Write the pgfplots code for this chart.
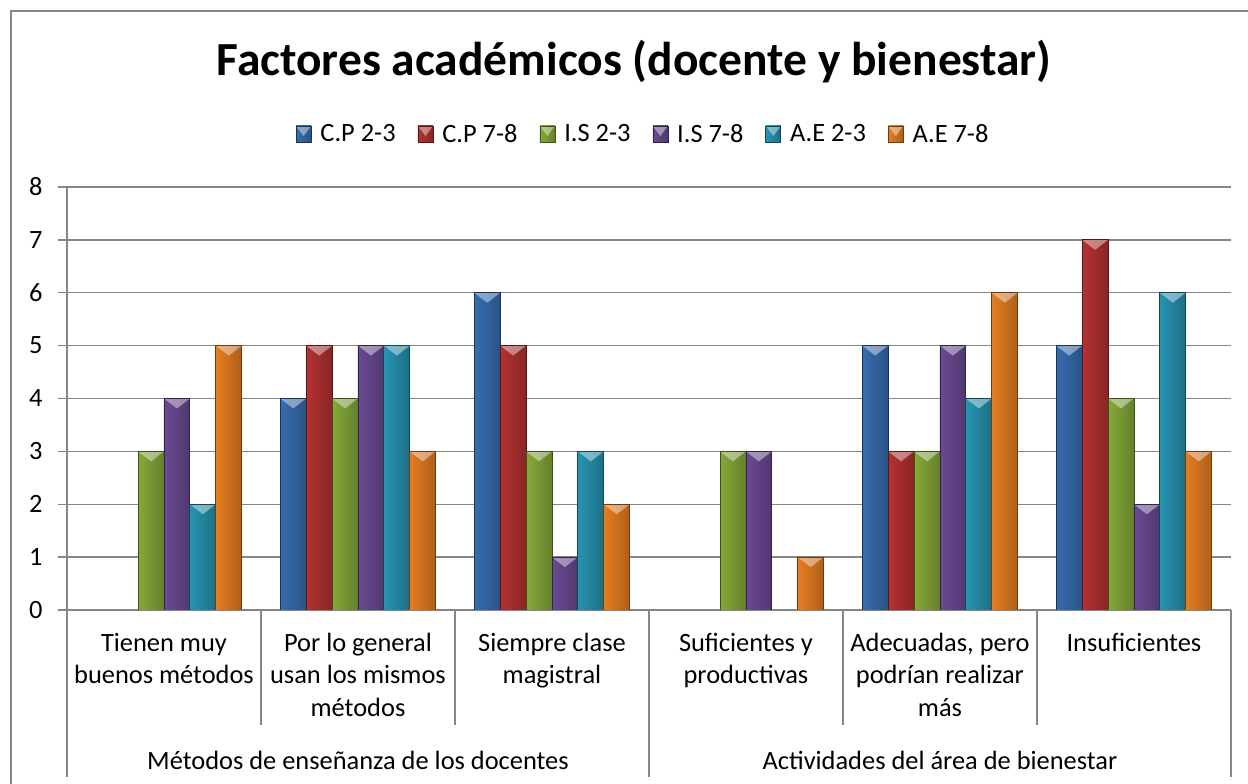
\documentclass[border=0pt]{standalone}
\usepackage{pgfplots}
\pgfplotsset{compat=1.18}
\usepackage{fontspec}
\setmainfont{Carlito}
\definecolor{gridgray}{RGB}{134,134,134}
\definecolor{cBlue}{RGB}{58,115,185}
\definecolor{cRed}{RGB}{190,52,52}
\definecolor{cGreen}{RGB}{140,178,60}
\definecolor{cPurple}{RGB}{112,78,155}
\definecolor{cAqua}{RGB}{40,155,185}
\definecolor{cOrange}{RGB}{242,132,35}
\newcommand{\lbl}{\fontsize{26.4}{32}\selectfont}
\newcommand{\ttl}{\fontsize{47.5}{52}\selectfont\bfseries}
\newcommand{\bevel}{%
  \pgfsetfillcolor{white}\pgfsetfillopacity{0.42}%
  \pgfpathmoveto{\pgfpointanchor{path picture bounding box}{north west}}%
  \pgfpathlineto{\pgfpointadd{\pgfpointanchor{path picture bounding box}{north}}{\pgfpoint{0pt}{-10pt}}}%
  \pgfpathlineto{\pgfpointanchor{path picture bounding box}{north east}}%
  \pgfpathclose\pgfusepath{fill}}
\tikzset{excelbar/.style={left color=#1!95!black, middle color=#1!90!white, right color=#1!72!black,
  draw=#1!45!black, line width=0.8pt, path picture={\bevel}}}
\pgfplotsset{
  s0/.style={ybar, bar width=25.9pt, bar shift=-64.75pt, excelbar=cBlue, forget plot},
  s1/.style={ybar, bar width=25.9pt, bar shift=-38.85pt, excelbar=cRed, forget plot},
  s2/.style={ybar, bar width=25.9pt, bar shift=-12.95pt, excelbar=cGreen, forget plot},
  s3/.style={ybar, bar width=25.9pt, bar shift=12.95pt, excelbar=cPurple, forget plot},
  s4/.style={ybar, bar width=25.9pt, bar shift=38.85pt, excelbar=cAqua, forget plot},
  s5/.style={ybar, bar width=25.9pt, bar shift=64.75pt, excelbar=cOrange, forget plot},
}
\newcommand{\bb}[3]{\addplot[#1] coordinates {(#2,#3)};}
\begin{document}
\begin{tikzpicture}[x=1pt,y=1pt]
\useasboundingbox (0,0) rectangle (1248,784);
\draw[gridgray, line width=1.3pt] (11,0) -- (11,773) -- (1248,773);
\node[anchor=base, font=\ttl] at (634,708) {Factores académicos (docente y bienestar)};
\begin{axis}[
  at={(67pt,174pt)}, anchor=south west, scale only axis,
  width=1164pt, height=423pt,
  xmin=-0.5, xmax=5.5, ymin=0, ymax=8,
  ytick={0,1,...,8}, xtick=\empty,
  ymajorgrids, grid style={gridgray, line width=1.3pt},
  axis lines=left, axis line style={-, gridgray, line width=1.3pt},
  tick align=outside, major tick length=9pt,
  every tick/.style={gridgray, line width=1.3pt},
  /pgf/number format/assume math mode=true,
  yticklabel style={font=\lbl, xshift=-12pt},
  clip mode=individual,
  legend columns=6,
  legend image code/.code={\draw[#1, line width=0.6pt] (0pt,-8pt) rectangle (15pt,8pt); \path (22pt,0pt);},
  legend style={at={(axis description cs:0.495,1)}, anchor=center, yshift=53pt,
    draw=none, fill=none, inner sep=0pt, font=\lbl,
    /tikz/every even column/.append style={column sep=20pt}},
]
\addlegendimage{excelbar=cBlue}
\addlegendimage{excelbar=cRed}
\addlegendimage{excelbar=cGreen}
\addlegendimage{excelbar=cPurple}
\addlegendimage{excelbar=cAqua}
\addlegendimage{excelbar=cOrange}
\legend{C.P 2-3, C.P 7-8, I.S 2-3, I.S 7-8, A.E 2-3, A.E 7-8}
% C.P 2-3
\bb{s0}{1}{4} \bb{s0}{2}{6} \bb{s0}{4}{5} \bb{s0}{5}{5}
% C.P 7-8
\bb{s1}{1}{5} \bb{s1}{2}{5} \bb{s1}{4}{3} \bb{s1}{5}{7}
% I.S 2-3
\bb{s2}{0}{3} \bb{s2}{1}{4} \bb{s2}{2}{3} \bb{s2}{3}{3} \bb{s2}{4}{3} \bb{s2}{5}{4}
% I.S 7-8
\bb{s3}{0}{4} \bb{s3}{1}{5} \bb{s3}{2}{1} \bb{s3}{3}{3} \bb{s3}{4}{5} \bb{s3}{5}{2}
% A.E 2-3
\bb{s4}{0}{2} \bb{s4}{1}{5} \bb{s4}{2}{3} \bb{s4}{4}{4} \bb{s4}{5}{6}
% A.E 7-8
\bb{s5}{0}{5} \bb{s5}{1}{3} \bb{s5}{2}{2} \bb{s5}{3}{1} \bb{s5}{4}{6} \bb{s5}{5}{3}
% separators
\draw[gridgray, line width=1.3pt] (axis cs:0.5,0) -- ++(0pt,-115pt);
\draw[gridgray, line width=1.3pt] (axis cs:1.5,0) -- ++(0pt,-115pt);
\draw[gridgray, line width=1.3pt] (axis cs:3.5,0) -- ++(0pt,-115pt);
\draw[gridgray, line width=1.3pt] (axis cs:4.5,0) -- ++(0pt,-115pt);
\draw[gridgray, line width=1.3pt] (axis cs:-0.5,0) -- ++(0pt,-167pt);
\draw[gridgray, line width=1.3pt] (axis cs:2.5,0) -- ++(0pt,-167pt);
\draw[gridgray, line width=1.3pt] (axis cs:5.5,0) -- ++(0pt,-167pt);
% category labels
\node[anchor=base, font=\lbl, yshift=-42pt] at (axis cs:0,0) {Tienen muy};
\node[anchor=base, font=\lbl, yshift=-74pt] at (axis cs:0,0) {buenos métodos};
\node[anchor=base, font=\lbl, yshift=-42pt] at (axis cs:1,0) {Por lo general};
\node[anchor=base, font=\lbl, yshift=-74pt] at (axis cs:1,0) {usan los mismos};
\node[anchor=base, font=\lbl, yshift=-107pt] at (axis cs:1,0) {métodos};
\node[anchor=base, font=\lbl, yshift=-42pt] at (axis cs:2,0) {Siempre clase};
\node[anchor=base, font=\lbl, yshift=-74pt] at (axis cs:2,0) {magistral};
\node[anchor=base, font=\lbl, yshift=-42pt] at (axis cs:3,0) {Suficientes y};
\node[anchor=base, font=\lbl, yshift=-74pt] at (axis cs:3,0) {productivas};
\node[anchor=base, font=\lbl, yshift=-42pt] at (axis cs:4,0) {Adecuadas, pero};
\node[anchor=base, font=\lbl, yshift=-74pt] at (axis cs:4,0) {podrían realizar};
\node[anchor=base, font=\lbl, yshift=-107pt] at (axis cs:4,0) {más};
\node[anchor=base, font=\lbl, yshift=-42pt] at (axis cs:5,0) {Insuficientes};
\node[anchor=base, font=\lbl, yshift=-160pt] at (axis cs:1,0) {Métodos de enseñanza de los docentes};
\node[anchor=base, font=\lbl, yshift=-160pt] at (axis cs:4,0) {Actividades del área de bienestar};
\end{axis}
\end{tikzpicture}
\end{document}
